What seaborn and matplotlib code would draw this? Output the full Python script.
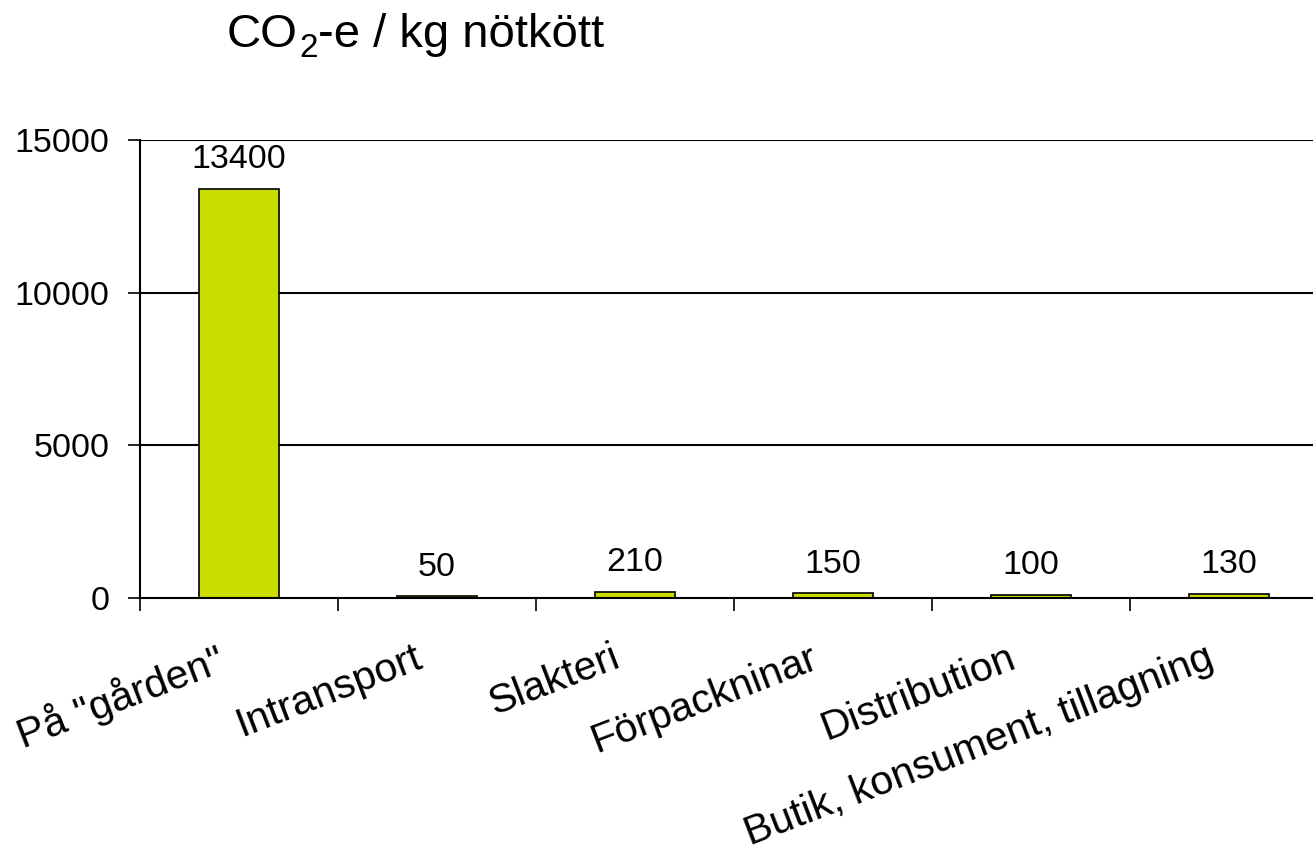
import pandas as pd
import matplotlib
matplotlib.use('Agg')
import matplotlib.pyplot as plt
import matplotlib.transforms as mtrans
import seaborn as sns

# values
steps = ['På "gården"', 'Intransport', 'Slakteri', 'Förpackninar', 'Distribution',
         'Butik, konsument, tillagning']
co2 = [13400, 50, 210, 150, 100, 130]
yticks = [0, 5000, 10000, 15000]

df = pd.DataFrame({'steg': steps, 'co2': co2})

sns.set_style('white')
plt.rcParams['font.family'] = ['Liberation Sans', 'DejaVu Sans']
plt.rcParams['text.color'] = 'black'
plt.rcParams['xtick.color'] = 'black'
plt.rcParams['ytick.color'] = 'black'

fig = plt.figure(figsize=(13.13, 8.61), dpi=100)
# axes runs a bit past the right edge of the figure, like the original
ax = fig.add_axes([140 / 1313, 263 / 861, 1188 / 1313, 458 / 861])

sns.barplot(data=df, x='steg', y='co2', color='#CBDD00', width=0.4,
            edgecolor='black', linewidth=1.2, saturation=1, ax=ax)

ax.set_xlim(-0.5, 5.5)
ax.set_ylim(0, 15000)
ax.set_yticks(yticks)
ax.set_xlabel('')
ax.set_ylabel('')

# horizontal grid lines
for v in yticks[1:]:
    ax.axhline(v, color='black', lw=1.5, zorder=0)

for s in ['top', 'right']:
    ax.spines[s].set_visible(False)
for s in ['left', 'bottom']:
    ax.spines[s].set_color('black')
    ax.spines[s].set_linewidth(1.5)

ax.tick_params(axis='y', length=8.6, width=1.2, pad=13.5, labelsize=24.5, left=True)
ax.set_xticks(range(len(steps)))
ax.set_xticklabels(steps, rotation=21, ha='right', rotation_mode='anchor', fontsize=29.5)
ax.tick_params(axis='x', which='major', length=0, pad=29)
ax.set_xticks([i - 0.5 for i in range(len(steps))], minor=True)
ax.tick_params(axis='x', which='minor', length=9, width=1.2, bottom=True)
shift = mtrans.ScaledTranslation(-0.24, 0, fig.dpi_scale_trans)
for lbl in ax.get_xticklabels():
    lbl.set_transform(lbl.get_transform() + shift)

# value labels above bars
for i, v in enumerate(co2):
    ax.annotate(str(v), (i, v), xytext=(0, 10), textcoords='offset points',
                ha='center', va='bottom', fontsize=24.5)

# title with a real subscript: "CO" + low "2" + rest
t1 = fig.text(227 / 1313, 1 - 47 / 861, 'CO', fontsize=34, ha='left', va='baseline')
t2 = ax.annotate('2', xy=(1, 0), xycoords=t1, xytext=(1, 0), textcoords='offset points',
                 fontsize=24, ha='left', va='baseline', annotation_clip=False)
ax.annotate('-e / kg nötkött', xy=(1, 0), xycoords=(t2, t1), fontsize=34,
            ha='left', va='bottom', annotation_clip=False)

fig.savefig('out.png', dpi=100)
